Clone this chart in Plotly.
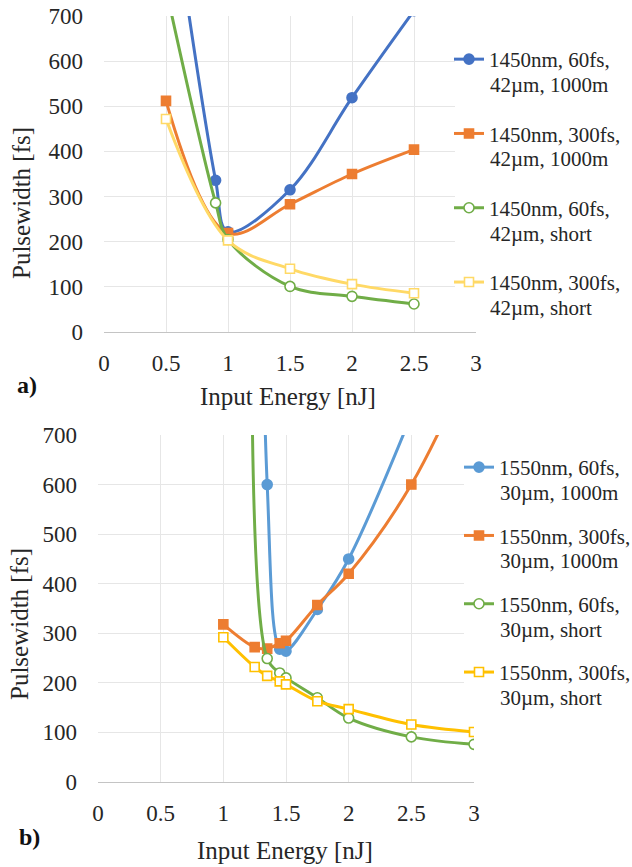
import plotly.graph_objects as go

# ---- Panel a): 1450 nm, 42 µm ----
a_x_60fs_1000m = [0.5, 0.9, 1.0, 1.5, 2.0, 2.5]
a_y_60fs_1000m = [1050, 336, 222, 315, 519, 712]
a_x_300fs_1000m = [0.5, 1.0, 1.5, 2.0, 2.5]
a_y_300fs_1000m = [512, 219, 283, 350, 404]
a_x_60fs_short = [0.5, 0.9, 1.0, 1.5, 2.0, 2.5]
a_y_60fs_short = [760, 286, 205, 101, 79, 62]
a_x_300fs_short = [0.5, 1.0, 1.5, 2.0, 2.5]
a_y_300fs_short = [472, 203, 140, 106, 86]

# ---- Panel b): 1550 nm, 30 µm ----
b_x_60fs_1000m = [1.25, 1.35, 1.45, 1.5, 1.75, 2.0, 2.5]
b_y_60fs_1000m = [2400, 600, 268, 264, 348, 450, 740]
b_x_300fs_1000m = [1.0, 1.25, 1.35, 1.45, 1.5, 1.75, 2.0, 2.5, 3.0]
b_y_300fs_1000m = [318, 272, 269, 280, 285, 357, 420, 600, 860]
b_x_60fs_short = [1.25, 1.35, 1.45, 1.5, 1.75, 2.0, 2.5, 3.0]
b_y_60fs_short = [1700, 249, 220, 210, 170, 129, 91, 76]
b_x_300fs_short = [1.0, 1.25, 1.35, 1.45, 1.5, 1.75, 2.0, 2.5, 3.0]
b_y_300fs_short = [292, 232, 214, 203, 197, 163, 147, 116, 101]

# legend labels: first line goes in the legend, second line is written underneath
a_names = ["1450nm, 60fs,", "1450nm, 300fs,", "1450nm, 60fs,", "1450nm, 300fs,"]
a_names2 = ["42µm, 1000m", "42µm, 1000m", "42µm, short", "42µm, short"]
b_names = ["1550nm, 60fs,", "1550nm, 300fs,", "1550nm, 60fs,", "1550nm, 300fs,"]
b_names2 = ["30µm, 1000m", "30µm, 1000m", "30µm, short", "30µm, short"]

x_ticks = [0, 0.5, 1, 1.5, 2, 2.5, 3]
y_ticks = [0, 100, 200, 300, 400, 500, 600, 700]

W, H = 632, 867
FONT = "Liberation Serif, Times New Roman, serif"
TXT = "#262626"

a_colors = ["#4472C4", "#ED7D31", "#70AD47", "#FFD966"]
b_colors = ["#5B9BD5", "#ED7D31", "#70AD47", "#FFC000"]
symbols = ["circle", "square", "circle", "square"]
filled = [True, True, False, False]

fig = go.Figure()


def add_series(xs, ys, name, color, sym, fill, xa, ya, legend, group):
    fig.add_trace(go.Scatter(
        x=xs, y=ys, name=name, mode="lines+markers",
        line=dict(color=color, width=3, shape="spline", smoothing=1.0),
        marker=dict(symbol=sym, size=10 if sym == "circle" else 9,
                    color=color if fill else "white",
                    line=dict(color=color, width=1.6)),
        xaxis=xa, yaxis=ya, legend=legend, legendgroup=group,
    ))


a_data = [(a_x_60fs_1000m, a_y_60fs_1000m), (a_x_300fs_1000m, a_y_300fs_1000m),
          (a_x_60fs_short, a_y_60fs_short), (a_x_300fs_short, a_y_300fs_short)]
b_data = [(b_x_60fs_1000m, b_y_60fs_1000m), (b_x_300fs_1000m, b_y_300fs_1000m),
          (b_x_60fs_short, b_y_60fs_short), (b_x_300fs_short, b_y_300fs_short)]

for i, (xs, ys) in enumerate(a_data):
    add_series(xs, ys, a_names[i], a_colors[i], symbols[i], filled[i], "x", "y", "legend", f"a{i}")
for i, (xs, ys) in enumerate(b_data):
    add_series(xs, ys, b_names[i], b_colors[i], symbols[i], filled[i], "x2", "y2", "legend2", f"b{i}")

# plot areas in pixels (left, right, top, bottom)
A = (104, 476, 16, 332)
B = (98, 474, 435, 782)


def xdom(p):
    return [p[0] / W, p[1] / W]


def ydom(p):
    return [1 - p[3] / H, 1 - p[2] / H]


axis_common = dict(
    showgrid=True, gridcolor="#e6e6e6", gridwidth=1, zeroline=False,
    tickfont=dict(family=FONT, size=23, color=TXT), ticks="",
)
xaxis_common = dict(axis_common, range=[0, 3], tickvals=x_ticks,
                    showline=True, linecolor="#c4c4c4", linewidth=1.3,
                    ticklabelstandoff=10)
yaxis_common = dict(axis_common, range=[0, 700], tickvals=y_ticks,
                    showline=False, ticklabelstandoff=20)

fig.update_layout(
    width=W, height=H, margin=dict(l=0, r=0, t=0, b=0, autoexpand=False),
    paper_bgcolor="white", plot_bgcolor="white", showlegend=True,
    font=dict(family=FONT, color=TXT),
    xaxis=dict(xaxis_common, domain=xdom(A), anchor="y"),
    yaxis=dict(yaxis_common, domain=ydom(A), anchor="x"),
    xaxis2=dict(xaxis_common, domain=xdom(B), anchor="y2"),
    yaxis2=dict(yaxis_common, domain=ydom(B), anchor="x2"),
)

# legends: single-line items, 1.3 line spacing + 3 px per item
LEG_FONT = 21
ITEM_H = LEG_FONT * 1.3 + 3
a_leg_left, a_leg_top, a_gap = 449, 39, 44
b_leg_left, b_leg_top, b_gap = 459, 447, 38
fig.update_layout(
    legend=dict(x=a_leg_left / W, xanchor="left", y=1 - a_leg_top / H, yanchor="top",
                bgcolor="rgba(0,0,0,0)", font=dict(family=FONT, size=LEG_FONT, color=TXT),
                tracegroupgap=a_gap, itemwidth=30, borderwidth=0),
    legend2=dict(x=b_leg_left / W, xanchor="left", y=1 - b_leg_top / H, yanchor="top",
                 bgcolor="rgba(0,0,0,0)", font=dict(family=FONT, size=LEG_FONT, color=TXT),
                 tracegroupgap=b_gap, itemwidth=30, borderwidth=0),
)

# white boxes behind the legends (hide the gridlines there, keep the x-axis line)
fig.add_shape(type="rect", xref="paper", yref="paper",
              x0=455 / W, x1=1.0, y0=1 - (A[3] - 1.5) / H, y1=1.0,
              fillcolor="white", line_width=0, layer="above")
fig.add_shape(type="rect", xref="paper", yref="paper",
              x0=464 / W, x1=1.0, y0=1 - 710 / H, y1=1 - (B[2] - 2) / H,
              fillcolor="white", line_width=0, layer="above")

annotations = []
# second lines of legend labels, placed under each legend item
a_first = [a_leg_top + 19 + i * (ITEM_H + a_gap) for i in range(4)]
b_first = [b_leg_top + 19 + i * (ITEM_H + b_gap) for i in range(4)]
for i in range(4):
    annotations.append(dict(text=a_names2[i], x=(a_leg_left + 40) / W, y=1 - (a_first[i] + 27) / H,
                            xref="paper", yref="paper", xanchor="left", yanchor="middle",
                            borderpad=0, showarrow=False,
                            font=dict(family=FONT, size=LEG_FONT, color=TXT)))
    annotations.append(dict(text=b_names2[i], x=(b_leg_left + 40) / W, y=1 - (b_first[i] + 27) / H,
                            xref="paper", yref="paper", xanchor="left", yanchor="middle",
                            borderpad=0, showarrow=False,
                            font=dict(family=FONT, size=LEG_FONT, color=TXT)))

# axis titles and panel labels
TITLE = dict(family=FONT, size=25, color=TXT)
for (cx, cy) in [(288, 396), (285, 850)]:
    annotations.append(dict(text="Input Energy [nJ]", x=cx / W, y=1 - cy / H, xref="paper", yref="paper",
                            xanchor="center", yanchor="middle", showarrow=False, font=TITLE))
for (cx, cy) in [(21, 203), (19, 624)]:
    annotations.append(dict(text="Pulsewidth [fs]", x=cx / W, y=1 - cy / H, xref="paper", yref="paper",
                            xanchor="center", yanchor="middle", showarrow=False, font=TITLE,
                            textangle=-90))
for (lab, cx, cy) in [("a)", 27, 385), ("b)", 29, 837)]:
    annotations.append(dict(text=f"<b>{lab}</b>", x=cx / W, y=1 - cy / H, xref="paper", yref="paper",
                            xanchor="center", yanchor="middle", showarrow=False,
                            font=dict(family=FONT, size=24, color="#111")))
fig.update_layout(annotations=annotations)

fig.write_html("out.html")
